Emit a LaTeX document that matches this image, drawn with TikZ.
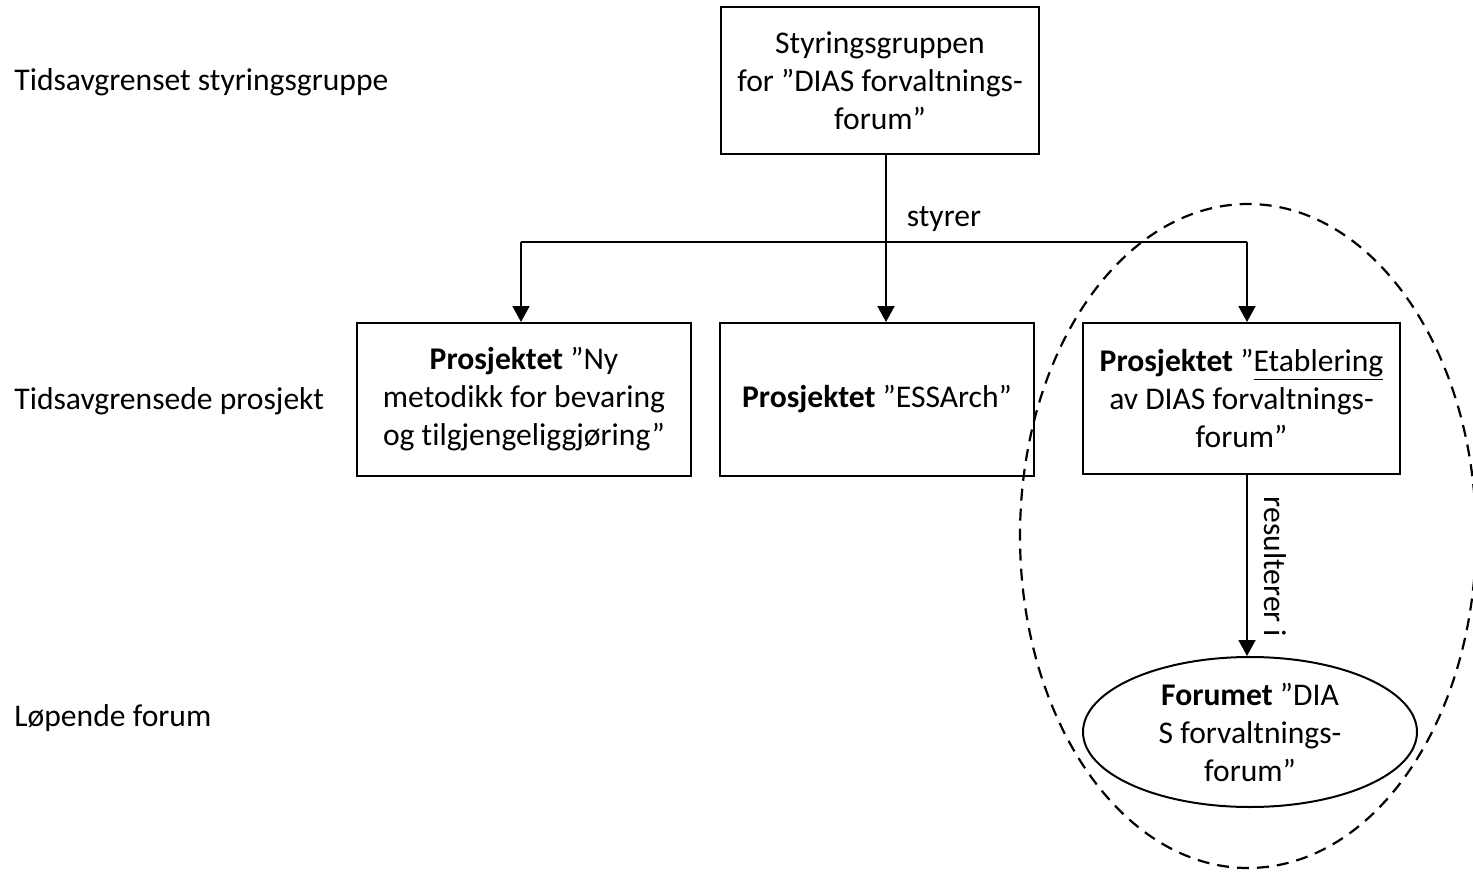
\documentclass[tikz,border=0pt]{standalone}
\usepackage{fontspec}
\setmainfont{Carlito}[RawFeature={-liga;-clig;-calt;-dlig}]
\usetikzlibrary{arrows.meta,shapes.geometric}
\begin{document}
\begin{tikzpicture}[x=0.5pt,y=-0.5pt,
  fnt/.style={font=\fontsize{15.8}{19}\selectfont},
  lbl/.style={fnt, inner sep=0},
  box/.style={draw, line width=1pt, align=center, fnt, inner sep=0},
  txt/.style={align=center, fnt, inner sep=0},
  arr/.style={line width=1pt, -{Triangle[width=8.5pt,length=8pt]}},
  conn/.style={line width=1pt},
  grp/.style={draw, ellipse, line width=1.1pt, dash pattern=on 6pt off 4pt, inner sep=0}]
\useasboundingbox (0,0) rectangle (1473,872);

% level labels
\node[lbl, anchor=west] (l1) at (14,82) {Tidsavgrenset styringsgruppe};
\node[lbl, anchor=west] (l2) at (14,401) {Tidsavgrensede prosjekt};
\node[lbl, anchor=west] (l3) at (14,718) {Løpende forum};

% group ellipse
\node[grp, minimum width=228pt, minimum height=332pt] (grp) at (1248,536) {};

% boxes
\node[box, minimum width=159pt, minimum height=73.5pt] (top) at (880,80.5)
  {Styringsgruppen\\for ”DIAS forvaltnings-\\forum”};
\node[box, minimum width=167pt, minimum height=76.5pt] (left) at (524,399.5)
  {\textbf{Prosjektet} ”Ny\\metodikk for bevaring\\og t\kern0ptilgjengeliggjøring”};
\node[box, minimum width=157pt, minimum height=76.5pt] (mid) at (877,399.5)
  {\textbf{Prosjektet} ”ESSArch”};
\node[box, minimum width=158.5pt, minimum height=75.5pt] (right) at (1241.5,398.5)
  {\textbf{Prosjektet} ”\underline{Etablering}\\av DIAS forvaltnings-\\forum”};

% forum ellipse
\node[draw, ellipse, line width=1pt, inner sep=0, minimum width=167pt, minimum height=75pt] (forum) at (1250,732) {};
\node[txt] (forumtxt) at (forum.center) {\textbf{Forumet} ”DIA\\S forvaltnings-\\forum”};

% connectors
\coordinate (sp) at (886,242);
\coordinate (bl) at (521,242);
\coordinate (br) at (1247,242);
\draw[conn] (top.south -| sp) -- (sp);
\draw[arr] (sp) -- (mid.north -| sp);
\draw[conn] (bl) -- (br);
\draw[arr] (bl) -- (left.north -| bl);
\draw[arr] (br) -- (right.north -| br);
\draw[arr] (right.south -| br) -- (forum.north -| br);

\node[lbl] (styrer) at (944,219) {styrer};
\node[lbl, rotate=-90] (res) at (1275,567) {resulterer i};
\end{tikzpicture}
\end{document}
